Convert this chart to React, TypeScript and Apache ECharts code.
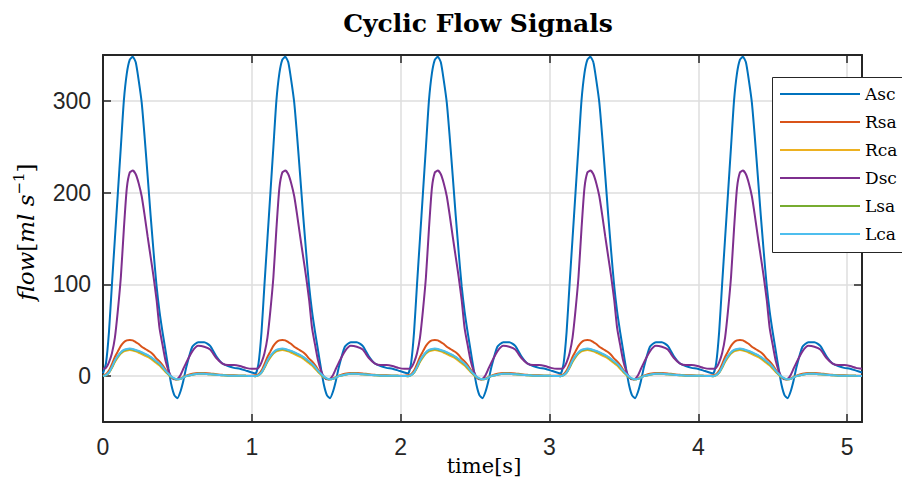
import React, { useEffect, useRef } from "react";
import * as echarts from "echarts";

// one cardiac cycle (phase in seconds)
const PERIOD = 1.025;
const CYCLES = 5;
const X_MAX = 5.1;

const phaseT = [
  0, 0.02, 0.04, 0.06, 0.08, 0.1, 0.12, 0.14, 0.16, 0.18, 0.2, 0.22, 0.24, 0.26, 0.28,
  0.3, 0.32, 0.34, 0.36, 0.38, 0.4, 0.42, 0.44, 0.46, 0.48, 0.5, 0.52, 0.54, 0.56,
  0.6, 0.64, 0.68, 0.72, 0.76, 0.8, 0.84, 0.88, 0.92, 0.96, 1.0,
];

const seriesNames = ["Asc", "Rsa", "Rca", "Dsc", "Lsa", "Lca"];
const seriesColors = ["#0072BD", "#D95319", "#EDB120", "#7E2F8E", "#77AC30", "#4DBEEE"];

const ascCycle = [
  3, 14, 48, 100, 150, 200, 250, 300, 330, 345, 348, 342, 322, 298, 260, 218, 175, 135, 98, 70,
  48, 28, 8, -10, -21, -24, -17, -5, 10,
  32, 37, 37, 33, 22, 14, 11, 9, 8, 6, 4,
];
const rsaCycle = [
  1, 2, 6, 13, 21, 27, 33, 37, 39, 39.5, 39, 37, 35, 32, 30, 28, 26, 23, 19, 16,
  12, 7, 3, -1, -3, -3.5, -2.5, -1, 0.5,
  2.5, 3.5, 3.5, 3, 2, 1.5, 1, 1, 0.5, 0.5, 0.5,
];
const rcaCycle = [
  0, 1, 3.5, 9, 15.5, 20.5, 24.5, 27, 28, 28.5, 28, 27, 25.5, 24, 22.5, 21, 19, 16.5, 14, 11.5,
  8, 4.5, 1.5, -1.5, -3, -3.5, -3, -1.5, 0,
  1.5, 2.5, 2.5, 2, 1.5, 1, 0.5, 0.5, 0.5, 0.3, 0.2,
];
const dscCycle = [
  8, 9, 15, 25, 42, 72, 108, 160, 205, 222, 224, 220, 210, 196, 175, 152, 130, 108, 83, 52,
  34, 17, 6, -1, -3.5, -3, 1, 8, 15,
  27, 33, 32, 29, 20, 14, 12, 12, 11, 9, 8,
];
const lsaCycle = [
  0, 1, 4, 9.5, 16.5, 21.5, 25.5, 28, 29, 29.5, 29, 28, 27, 25.5, 24, 22.5, 20.5, 18, 15.5, 13,
  9.5, 5.5, 2, -1, -3, -3.5, -3, -1.5, 0,
  1.5, 2.5, 2.5, 2, 1.5, 1, 0.5, 0.5, 0.5, 0.3, 0.2,
];
const lcaCycle = [
  0, 1, 4, 10, 17, 22, 26, 28.5, 29.5, 30, 29.5, 28.5, 27.5, 26, 24.5, 23, 21, 18.5, 16, 13.5,
  10, 6, 2.5, -0.5, -2.5, -3.5, -3, -1.5, 0,
  1.5, 2.5, 2.5, 2, 1.5, 1, 0.5, 0.5, 0.5, 0.3, 0.2,
];
const cycleValues = [ascCycle, rsaCycle, rcaCycle, dscCycle, lsaCycle, lcaCycle];

const xTicks = [0, 1, 2, 3, 4, 5];
const yTicks = [0, 100, 200, 300];

function buildSeriesData(cycle: number[]): [number, number][] {
  const out: [number, number][] = [];
  for (let k = 0; k < CYCLES; k++) {
    for (let i = 0; i < phaseT.length; i++) {
      const x = +(k * PERIOD + phaseT[i]).toFixed(4);
      if (x <= X_MAX + 1e-9) out.push([x, cycle[i]]);
    }
  }
  return out;
}

const AX = "#262626";
const GRID = "#dedede";
const SANS = "'Liberation Sans', Arial, Helvetica, sans-serif";
const SERIF = "'DejaVu Serif', 'Liberation Serif', serif";

export default function App() {
  const ref = useRef<HTMLDivElement>(null);

  useEffect(() => {
    if (!ref.current) return;
    const chart = echarts.init(ref.current, undefined, { renderer: "svg" });

    const axisLine = { show: true, onZero: false, lineStyle: { color: AX, width: 2 } };
    const axisTick = { show: true, inside: true, length: 8, lineStyle: { color: AX, width: 1.5 } };

    const xBase = { type: "value", min: 0, max: X_MAX, interval: 1 };
    const yBase = { type: "value", min: -50, max: 350, splitNumber: 4 };

    const option: any = {
      animation: false,
      backgroundColor: "#ffffff",
      grid: { left: 103, right: 40, top: 55, bottom: 70, containLabel: false },
      xAxis: [
        {
          ...xBase,
          position: "bottom",
          axisLine,
          axisTick,
          axisLabel: {
            margin: 13,
            fontSize: 23,
            fontFamily: SANS,
            color: AX,
            formatter: (v: number) => (xTicks.includes(v) ? String(v) : ""),
          },
          splitLine: { show: true, lineStyle: { color: GRID, width: 1.5 } },
        },
        {
          ...xBase,
          position: "top",
          axisLine,
          axisTick,
          axisLabel: { show: false },
          splitLine: { show: false },
        },
      ],
      yAxis: [
        {
          ...yBase,
          position: "left",
          axisLine,
          axisTick,
          axisLabel: {
            margin: 12,
            fontSize: 23,
            fontFamily: SANS,
            color: AX,
            formatter: (v: number) => (yTicks.includes(v) ? String(v) : ""),
          },
          splitLine: { show: true, lineStyle: { color: GRID, width: 1.5 } },
        },
        {
          ...yBase,
          position: "right",
          axisLine,
          axisTick,
          axisLabel: { show: false },
          splitLine: { show: false },
        },
      ],
      legend: {
        orient: "vertical",
        left: 772,
        top: 77,
        icon: "rect",
        itemWidth: 80,
        itemHeight: 2,
        itemGap: 10,
        padding: [8, 10, 9, 8],
        borderWidth: 0,
        backgroundColor: "transparent",
        z: 20,
        textStyle: { fontFamily: SERIF, fontSize: 17, color: "#000", lineHeight: 18 },
        data: seriesNames,
      },
      graphic: [
        {
          type: "rect",
          z: 19,
          shape: { x: 772.5, y: 77.5, width: 200, height: 175 },
          style: { fill: "#ffffff", stroke: AX, lineWidth: 1 },
        },
        {
          type: "text",
          x: 478,
          y: 23,
          style: {
            text: "Cyclic Flow Signals",
            font: `bold 25px ${SERIF}`,
            fill: "#000",
            align: "center",
            verticalAlign: "middle",
          },
        },
        {
          type: "text",
          x: 484,
          y: 466,
          style: {
            text: "time[s]",
            font: `21px ${SERIF}`,
            fill: "#000",
            align: "center",
            verticalAlign: "middle",
          },
        },
        {
          type: "text",
          x: 26,
          y: 232,
          rotation: Math.PI / 2,
          style: {
            text: "{i|flow}{r|[}{i|ml s}{s|−1}{r|]}",
            align: "center",
            verticalAlign: "middle",
            fill: "#000",
            rich: {
              i: { fontFamily: SERIF, fontStyle: "italic", fontSize: 23, lineHeight: 30, fill: "#000" },
              r: { fontFamily: SERIF, fontSize: 23, lineHeight: 30, fill: "#000" },
              s: { fontFamily: SERIF, fontSize: 15, lineHeight: 30, verticalAlign: "top", fill: "#000" },
            },
          },
        },
      ],
      series: seriesNames.map((name, idx) => ({
        name,
        type: "line",
        xAxisIndex: 0,
        yAxisIndex: 0,
        data: buildSeriesData(cycleValues[idx]),
        symbol: "none",
        showSymbol: false,
        smooth: 0.2,
        lineStyle: { color: seriesColors[idx], width: 2 },
        itemStyle: { color: seriesColors[idx] },
      })),
    };

    chart.setOption(option);
    return () => chart.dispose();
  }, []);

  return (
    <div
      ref={ref}
      style={{ position: "absolute", left: 0, top: 0, width: 902, height: 492, background: "#fff" }}
    />
  );
}
